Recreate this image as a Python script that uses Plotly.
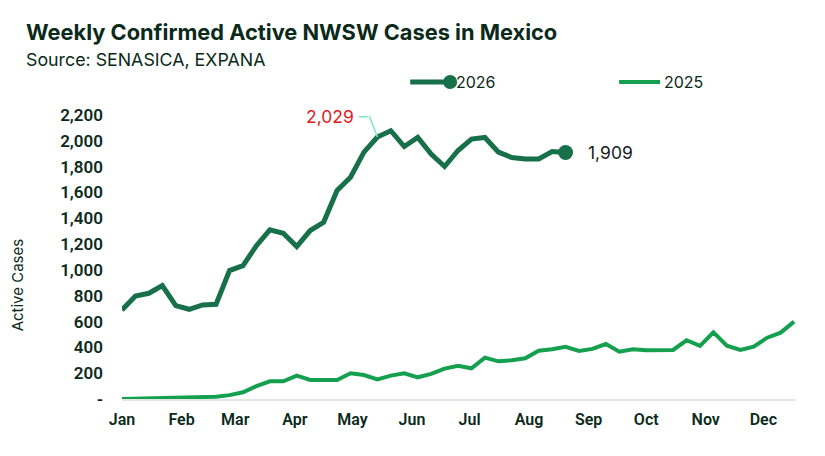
import pandas as pd
import plotly.graph_objects as go

# ---- data ----
weeks = pd.date_range("2025-01-01", periods=51, freq="7D")
cases_2025 = [0, 3, 5, 5, 5, 8, 15, 18, 30, 52,
              100, 137, 137, 181, 147, 147, 147, 199, 186, 152,
              181, 199, 168, 194, 235, 258, 238, 320, 292, 300,
              315, 374, 385, 405, 372, 388, 426, 367, 385, 377,
              377, 380, 455, 411, 517, 413, 380, 405, 475, 514, 599]
cases_2026 = [690, 798, 819, 878, 723, 695, 729, 734, 995, 1033,
              1188, 1310, 1284, 1181, 1305, 1369, 1615, 1718, 1912, 2029,
              2078, 1956, 2026, 1897, 1801, 1925, 2013, 2026, 1912, 1871,
              1860, 1860, 1917, 1909]
ytick_vals = [0, 200, 400, 600, 800, 1000, 1200, 1400, 1600, 1800, 2000, 2200]
ytick_text = ["-", "200", "400", "600", "800", "1,000", "1,200", "1,400",
              "1,600", "1,800", "2,000", "2,200"]
series_names = ["2026", "2025"]
peak_idx = 19

# ---- layout geometry (page px; page body has an 8px margin) ----
OFF = 8
W, H = 825 - OFF, 456 - OFF
PL, PR, PT, PB = 121.7, 796, 115, 399          # plot box in page px
L, R, T, B = PL - OFF, W - (PR - OFF), PT - OFF, H - (PB - OFF)
PW, PH = W - L - R, H - T - B


def px_x(p):
    return (p - OFF - L) / PW


def px_y(p):
    return (H - B - (p - OFF)) / PH


DARK = "#0b2a1a"
C26 = "#17704a"
C25 = "#14a04f"
FONT = "Roboto"
FONT2 = "Inter"

weeks_2026 = weeks[:len(cases_2026)]

fig = go.Figure()
fig.add_trace(go.Scatter(
    x=weeks_2026, y=cases_2026, name=series_names[0], mode="lines",
    line=dict(color=C26, width=5), showlegend=False,
))
fig.add_trace(go.Scatter(
    x=[weeks_2026[-1]], y=[cases_2026[-1]], name=series_names[0],
    mode="markers", marker=dict(color=C26, size=15), showlegend=False,
))
fig.add_trace(go.Scatter(
    x=weeks, y=cases_2025, name=series_names[1], mode="lines",
    line=dict(color=C25, width=4), showlegend=False,
))

# manual legend (line + end marker, like the reference)
LEG_Y = 82
shapes = [
    dict(type="line", xref="paper", yref="paper", x0=px_x(410), x1=px_x(450),
         y0=px_y(LEG_Y), y1=px_y(LEG_Y), line=dict(color=C26, width=5)),
    dict(type="circle", xref="paper", yref="paper", x0=px_x(443), x1=px_x(457),
         y0=px_y(LEG_Y + 7), y1=px_y(LEG_Y - 7), fillcolor=C26,
         line=dict(color=C26, width=0)),
    dict(type="line", xref="paper", yref="paper", x0=px_x(619), x1=px_x(660),
         y0=px_y(LEG_Y), y1=px_y(LEG_Y), line=dict(color=C25, width=4)),
]

annotations = [
    dict(xref="paper", yref="paper", x=px_x(454), y=px_y(LEG_Y), xanchor="left",
         yanchor="middle", showarrow=False, text=series_names[0],
         font=dict(family=FONT2, size=16, color=DARK)),
    dict(xref="paper", yref="paper", x=px_x(662), y=px_y(LEG_Y), xanchor="left",
         yanchor="middle", showarrow=False, text=series_names[1],
         font=dict(family=FONT2, size=16, color=DARK)),
    dict(xref="paper", yref="paper", x=px_x(24), y=px_y(32), xanchor="left",
         yanchor="middle", showarrow=False,
         text="<b>Weekly Confirmed Active NWSW Cases in Mexico</b>",
         font=dict(family=FONT2, size=21.8, color=DARK)),
    dict(xref="paper", yref="paper", x=px_x(24), y=px_y(60), xanchor="left",
         yanchor="middle", showarrow=False, text="Source: SENASICA, EXPANA",
         font=dict(family=FONT2, size=17.8, color=DARK)),
    dict(xref="paper", yref="paper", x=px_x(17), y=px_y(285), xanchor="center",
         yanchor="middle", showarrow=False, text="Active Cases", textangle=-90,
         font=dict(family=FONT2, size=15, color=DARK)),
    dict(x=weeks_2026[-1], y=cases_2026[-1], xref="x", yref="y",
         text=f"{cases_2026[-1]:,}", showarrow=False, xanchor="left",
         yanchor="middle", xshift=20,
         font=dict(family=FONT2, size=17.5, color="#1a1a1a")),
    dict(x=weeks_2026[peak_idx], y=cases_2026[peak_idx], xref="x", yref="y",
         text=f"<span style='color:#e0201e'>{cases_2026[peak_idx]:,}</span> "
              f"<span style='color:#7ce8c4'>–</span>",
         showarrow=True, arrowhead=0, arrowwidth=1.5, arrowcolor="#7ce8c4",
         ax=-8, ay=-21, xanchor="right", yanchor="middle", borderpad=0,
         standoff=0, font=dict(family=FONT2, size=17.5, color="#e0201e")),
]

fig.update_layout(
    width=W, height=H,
    margin=dict(l=L, r=R, t=T, b=B),
    paper_bgcolor="white", plot_bgcolor="white",
    font=dict(family=FONT, color=DARK),
    showlegend=False,
    xaxis=dict(range=["2025-01-01", "2025-12-18"], tickformat="%b",
               dtick="M1", tick0="2025-01-01", showgrid=False,
               showline=True, linecolor="#e6e6e6", linewidth=2,
               ticks="", ticklabelstandoff=5,
               tickfont=dict(family=FONT, size=16, color=DARK, weight=600),
               zeroline=False),
    yaxis=dict(range=[0, 2200], tickvals=ytick_vals, ticktext=ytick_text,
               showgrid=False, zeroline=False, showline=False, ticks="",
               ticklabelstandoff=18,
               tickfont=dict(family=FONT, size=17, color=DARK, weight=600)),
    shapes=shapes,
    annotations=annotations,
)

fig.write_html("out.html")
